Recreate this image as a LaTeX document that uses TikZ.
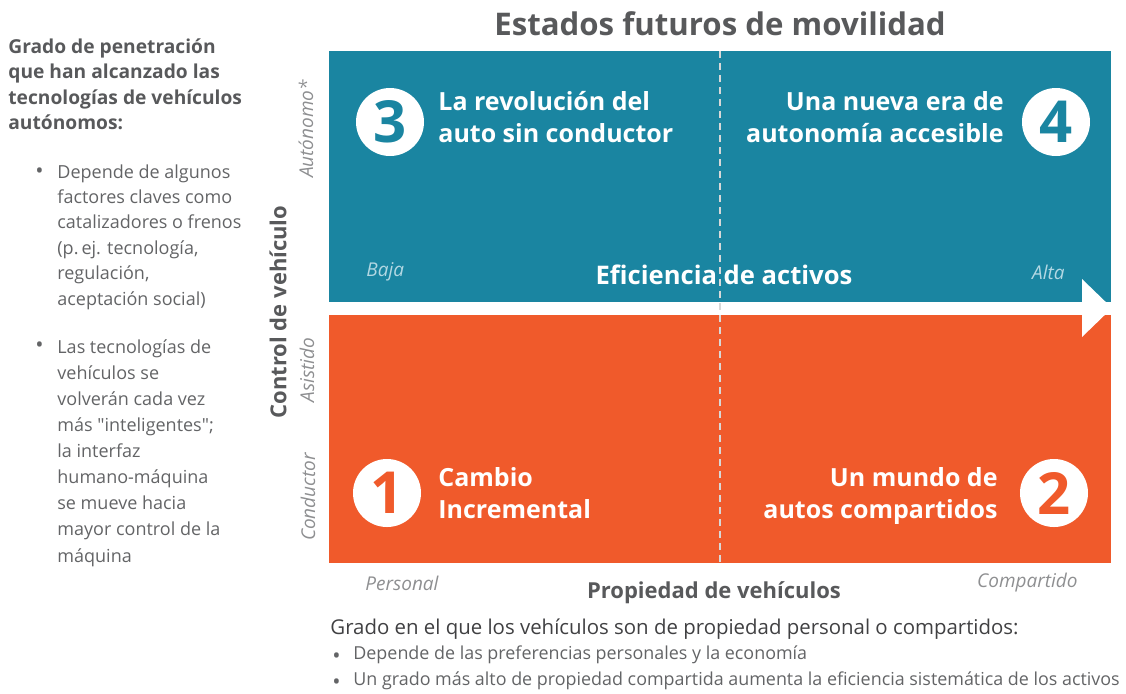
\documentclass[tikz,border=0pt]{standalone}
\usepackage{fontspec}
\setmainfont{Open Sans}
\usetikzlibrary{positioning}

\definecolor{autoblue}{HTML}{1A85A1}
\definecolor{drvorange}{HTML}{F05A2B}
\definecolor{headgrey}{HTML}{58595B}
\definecolor{darkgrey}{HTML}{404042}
\definecolor{bodygrey}{HTML}{636466}
\definecolor{scalegrey}{HTML}{8E8F91}
\definecolor{lightblue}{HTML}{B3D8E3}
\definecolor{dashgrey}{HTML}{D8D8D8}

\tikzset{
  quadtitle/.style={text=white,font=\bfseries\fontsize{12.5}{16}\selectfont,inner sep=0pt},
  numdisc/.style={circle,fill=white,minimum size=34pt,inner sep=0pt,font=\bfseries\fontsize{29}{29}\selectfont},
  scalelabel/.style={text=scalegrey,font=\itshape\fontsize{9.5}{11}\selectfont,inner sep=0pt},
  axislabel/.style={text=headgrey,font=\bfseries\fontsize{11}{12}\selectfont,inner sep=0pt},
  sidetext/.style={text=bodygrey,font=\fontsize{9}{12.7}\selectfont,align=left,inner sep=0pt},
  dotmark/.style={text=bodygrey,font=\fontsize{11}{12.8}\selectfont,inner sep=0pt}
}

\begin{document}
\begin{tikzpicture}[x=0.5pt,y=-0.5pt]
  \useasboundingbox (0,0) rectangle (1126,693);

  % quadrants
  \fill[autoblue]  (329,51)  rectangle (1111,302);
  \fill[drvorange] (329,315) rectangle (1111,563);
  \fill[white] (1082,279) -- (1112,308) -- (1082,337) -- cycle;

  % title
  \node[text=headgrey,font=\bfseries\fontsize{15.6}{18}\selectfont] (title) at (720,24) {Estados futuros de movilidad};

  % left explanation
  \node[sidetext,anchor=north west,text=headgrey,font=\bfseries\fontsize{9.6}{12.8}\selectfont] (leftHead) at (8,38)
    {Grado de penetración\\que han alcanzado las\\tecnologías de vehículos\\autónomos:};
  \node[sidetext,anchor=north west] (leftA) at (57,164)
    {Depende de algunos\\factores claves como\\catalizadores o frenos\\(p.\,ej. tecnología,\\regulación,\\aceptación social)};
  \node[sidetext,anchor=north west,font=\fontsize{9}{13.05}\selectfont] (leftB) at (57,339)
    {Las tecnologías de\\vehículos se\\volverán cada vez\\más \textquotedbl inteligentes\textquotedbl;\\la interfaz\\humano-máquina\\se mueve hacia\\mayor control de la\\máquina};
  \node[dotmark,anchor=north east] (dotA) at (44,167) {•};
  \node[dotmark,anchor=north east] (dotB) at (44,341) {•};

  % vertical axis
  \node[axislabel,rotate=90] (ctrl) at (278,312) {Control de vehículo};
  \node[scalelabel,rotate=90] (auto) at (306,129) {Autónomo*};
  \node[scalelabel,rotate=90] (asis) at (307,370) {Asistido};
  \node[scalelabel,rotate=90] (cond) at (308,497) {Conductor};

  % quadrant contents
  \node[numdisc,text=autoblue]  (q3) at (390,122)  {3};
  \node[numdisc,text=autoblue]  (q4) at (1056,122) {4};
  \node[numdisc,text=drvorange] (q1) at (387,493)  {1};
  \node[numdisc,text=drvorange] (q2) at (1054,493) {2};

  \node[quadtitle,align=left,anchor=north west]  (t3) at (438,91)  {La revolución del\\auto sin conductor};
  \node[quadtitle,align=right,anchor=north east] (t4) at (1004,91) {Una nueva era de\\autonomía accesible};
  \node[quadtitle,align=left,anchor=north west]  (t1) at (438,467) {Cambio\\Incremental};
  \node[quadtitle,align=right,anchor=north east] (t2) at (998,467) {Un mundo de\\autos compartidos};

  % efficiency axis
  \node[quadtitle,font=\bfseries\fontsize{12.8}{16}\selectfont] (eff) at (724,275) {Eficiencia de activos};
  \node[scalelabel,text=lightblue,anchor=west] (low)  at (366,272)  {Baja};
  \node[scalelabel,text=lightblue,anchor=east] (high) at (1065,272) {Alta};

  \draw[dashgrey,line width=1pt,dash pattern=on 3.5pt off 2.5pt] (720,51) -- (720,563);

  % horizontal axis
  \node[scalelabel,anchor=west] (pers) at (365,583)  {Personal};
  \node[scalelabel,anchor=east] (comp) at (1078,583) {Compartido};
  \node[axislabel] (prop) at (714,593) {Propiedad de vehículos};

  % bottom explanation
  \node[sidetext,anchor=west,text=darkgrey,font=\fontsize{10.2}{12}\selectfont] (botHead) at (330,629)
    {Grado en el que los vehículos son de propiedad personal o compartidos:};
  \node[sidetext,anchor=west,font=\fontsize{8.95}{12}\selectfont] (botA) at (353,655) {Depende de las preferencias personales y la economía};
  \node[sidetext,anchor=west,font=\fontsize{8.95}{12}\selectfont] (botB) at (353,681) {Un grado más alto de propiedad compartida aumenta la eficiencia sistemática de los activos};
  \node[dotmark,anchor=east] (dotC) at (341,658) {•};
  \node[dotmark,anchor=east] (dotD) at (341,684) {•};
\end{tikzpicture}
\end{document}
